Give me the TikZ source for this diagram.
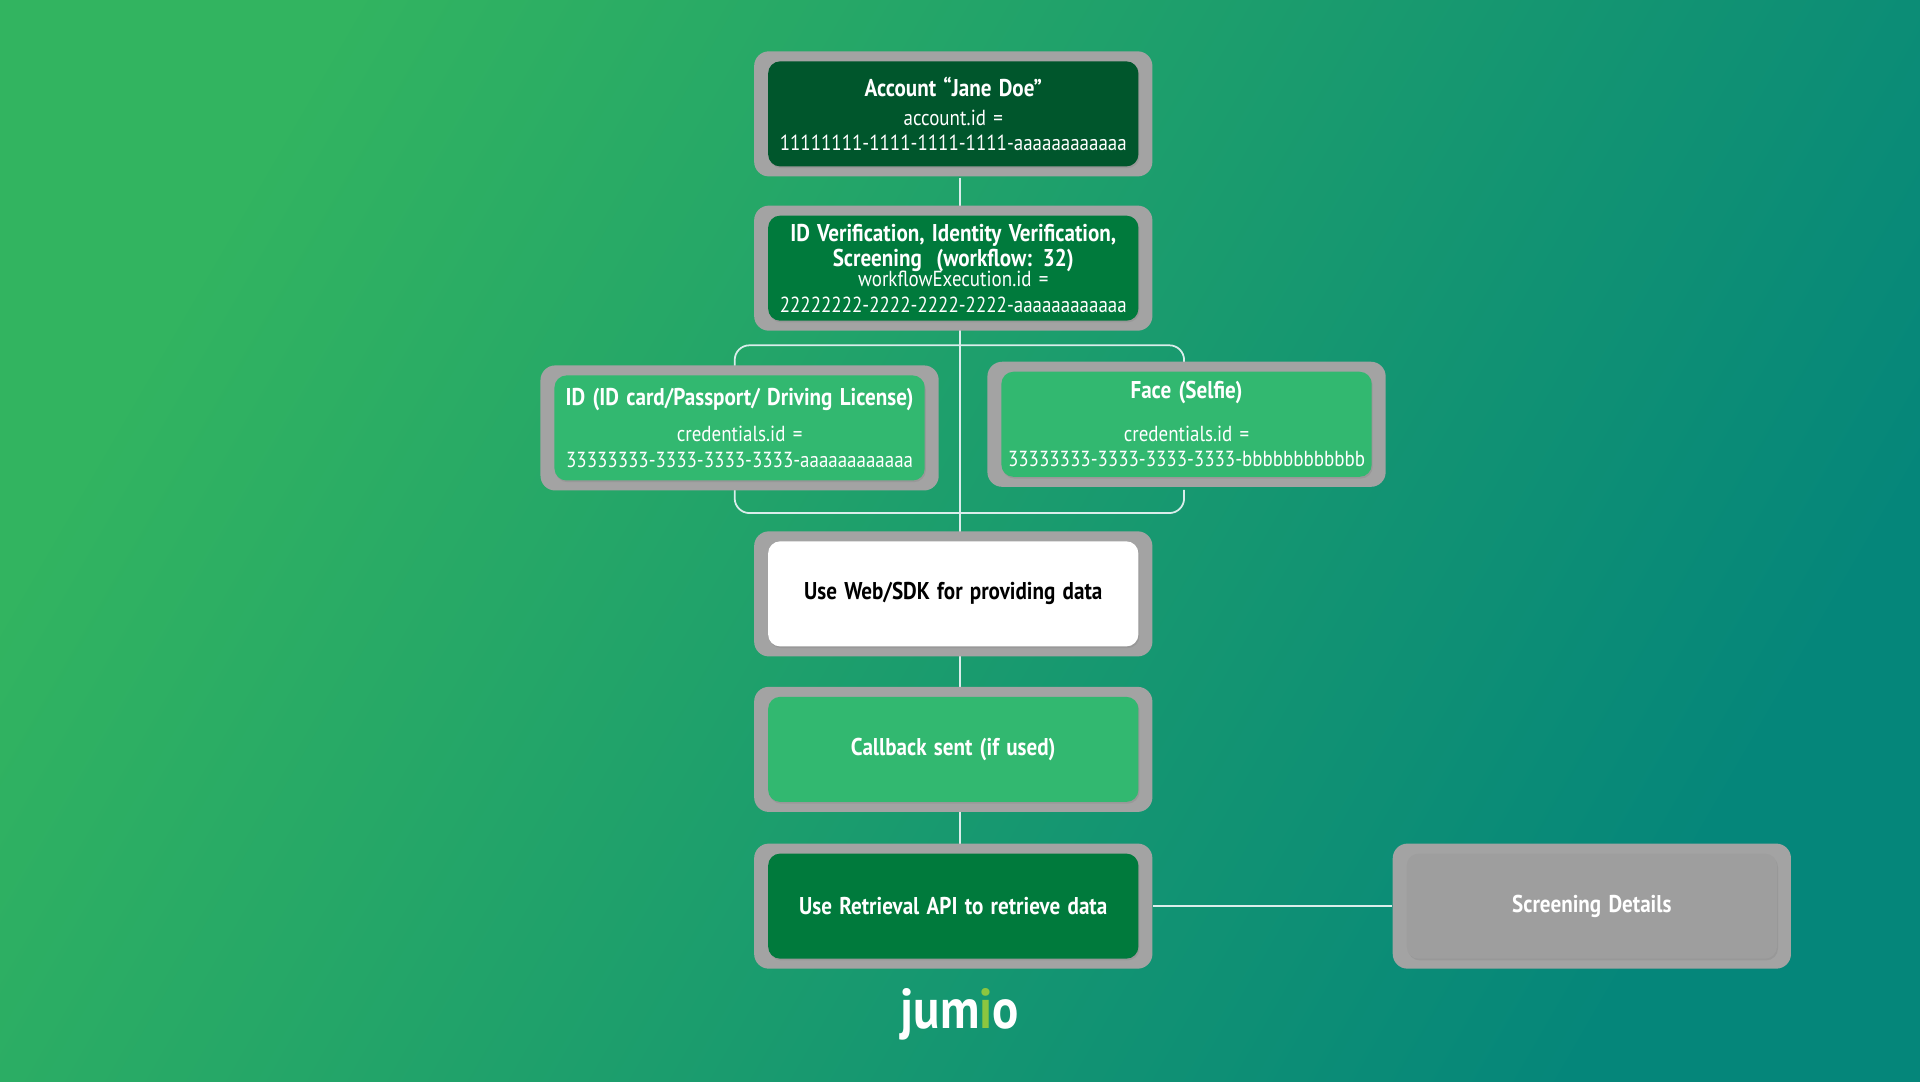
\documentclass[tikz,border=0pt]{standalone}
\usepackage{fontspec}
\setmainfont{PT Sans}[FakeStretch=0.87]
\usetikzlibrary{shadows}
\definecolor{bgA}{RGB}{50,180,96}
\definecolor{bgB}{RGB}{5,134,122}
\definecolor{frameC}{RGB}{163,163,163}
\definecolor{darkG}{RGB}{0,86,44}
\definecolor{midG}{RGB}{0,122,60}
\definecolor{lightG}{RGB}{50,184,112}
\definecolor{greyC}{RGB}{158,158,158}
\definecolor{logoC}{RGB}{140,198,63}
\newcommand\px{0.012245cm}
\tikzset{
  frame/.style={fill=frameC, rounded corners=0.147cm, minimum width=3.98cm, minimum height=1.25cm},
  card/.style={rounded corners=0.12cm, minimum width=3.7cm, minimum height=1.05cm, inner sep=0pt,
    text width=3.68cm, align=center, text=white, font=\fontsize{6.2}{7.2}\selectfont,
    execute at begin node={\hyphenpenalty=10000\exhyphenpenalty=10000},
    drop shadow={opacity=0.3, shadow xshift=0.3pt, shadow yshift=-0.5pt}},
  link/.style={white!85!bgB, line width=0.5pt}
}
\newcommand\tit[1]{{\fontsize{6.9}{7.9}\selectfont\bfseries #1}}
\begin{document}
\begin{tikzpicture}[x=\px, y=-\px]
\shade[shading=axis, left color=bgA, right color=bgB, shading angle=60] (0,0) rectangle (1568,883);
\useasboundingbox (0,0) rectangle (1568,883);
% tree lines
\coordinate (top) at (784,145);
\coordinate (bot) at (784,690);
\draw[link] (top) -- (bot);
\draw[link, rounded corners=0.147cm] (600,300) |- (967,282) -- (967,300);
\draw[link, rounded corners=0.147cm] (600,400) |- (967,419) -- (967,400);
% cards
\node[frame] (account frame) at (778.5,93) {};
\node[card, fill=darkG] (account) at (778.5,93) {\tit{Account “Jane Doe”}\\[1pt]account.id =\\11111111-1111-1111-1111-aaaaaaaaaaaa};
\node[frame] (workflow frame) at (778.5,219) {};
\node[card, fill=midG] (workflow) at (778.5,219) {\tit{ID Verification, Identity Verification,\\Screening~ (workflow: 32)}\\[-1.5pt]workflowExecution.id =\\22222222-2222-2222-2222-aaaaaaaaaaaa};
\node[frame] (id frame) at (604,349.5) {};
\node[card, fill=lightG] (id) at (604,349.5) {\tit{ID (ID card/Passport/ Driving License)}\\[3pt]credentials.id =\\33333333-3333-3333-3333-aaaaaaaaaaaa};
\node[frame] (face frame) at (969,346.5) {};
\node[card, fill=lightG] (face) at (969,346.5) {\tit{Face (Selfie)}\\[5pt]credentials.id =\\33333333-3333-3333-3333-bbbbbbbbbbbb};
\node[frame] (sdk frame) at (778.5,485) {};
\node[card, fill=white, text=black] (sdk) at (778.5,485) {\tit{Use Web/SDK for providing data}};
\node[frame] (callback frame) at (778.5,612) {};
\node[card, fill=lightG] (callback) at (778.5,612) {\tit{Callback sent (if used)}};
\node[frame] (retrieval frame) at (778.5,740) {};
\node[card, fill=midG] (retrieval) at (778.5,740) {\tit{Use Retrieval API to retrieve data}};
\node[frame] (screening frame) at (1300,740) {};
\node[card, fill=greyC] (screening) at (1300,740) {\tit{Screening Details}};
\draw[link] (retrieval frame) -- (screening frame);
% logo
\node[text=white, font=\fontsize{16}{16}\selectfont\bfseries] (logo) at (784,828) {jum\textcolor{logoC}{i}o};
\end{tikzpicture}
\end{document}
